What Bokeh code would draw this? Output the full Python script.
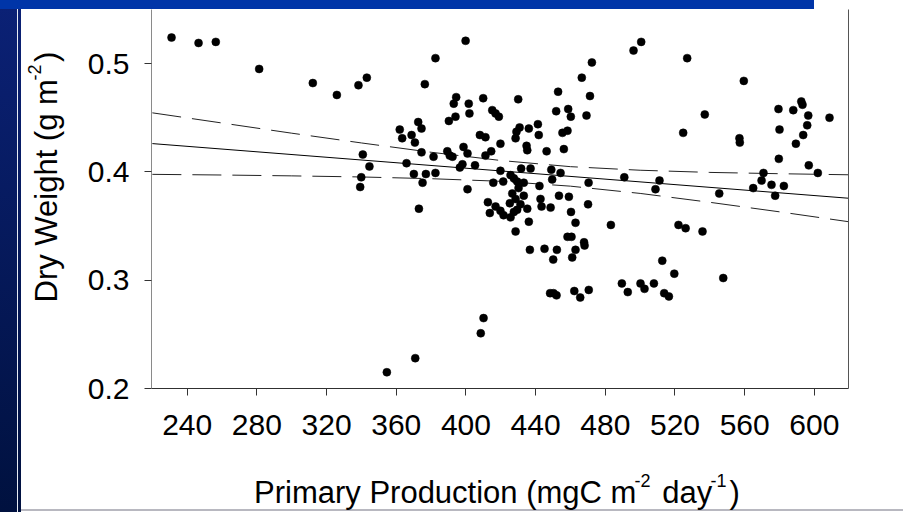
import math
from bokeh.plotting import figure
from bokeh.models import Range1d, FixedTicker, LinearAxis, Label
from bokeh.embed import file_html
from bokeh.resources import INLINE

# ---------------- data ----------------
production = [
    231.0, 246.5, 256.4, 281.3, 312.1, 325.9, 338.3, 343.1, 339.3, 339.9, 340.8, 344.6, 354.6, 362.0, 363.4,
    365.9, 368.8, 370.1, 370.7, 370.9, 372.6, 373.0, 374.5, 374.5, 375.1, 376.4, 377.0, 381.4, 382.5, 382.5,
    389.3, 390.2, 390.7, 392.3, 393.0, 394.0, 394.4, 396.5, 398.0, 398.6, 399.8, 400.9, 400.9, 401.6, 402.0,
    405.2, 408.0, 408.5, 409.9, 410.1, 411.2, 411.2, 412.6, 413.7, 414.5, 415.1, 415.7, 417.0, 417.0, 418.9,
    419.8, 419.8, 419.8, 421.4, 421.6,
    425.6, 427.5, 429.4, 433.2, 430.2, 426.6, 433.2, 428.5, 425.2, 431.3, 429.4, 427.5, 435.2, 425.6,
    428.5, 428.5, 429.0, 430.8, 430.0, 431.7, 437.1, 434.8, 435.2, 436.1, 436.1, 436.7, 441.3, 441.8, 442.2,
    442.8, 443.4, 445.1, 446.3, 448.6, 449.0, 449.5, 450.1, 448.3, 450.3, 452.0, 451.8, 452.2, 452.9, 453.4,
    454.3, 455.4, 458.3, 456.2, 458.7, 458.3, 460.6, 459.1, 460.2, 460.3, 461.0, 462.2, 462.9, 462.9, 465.6,
    466.5, 467.8, 468.1, 469.2, 470.1, 470.4, 470.5, 472.3, 471.2,
    483.2, 489.5, 490.9, 492.9, 496.2, 500.2, 500.6, 502.5, 507.9, 508.8, 511.1, 512.7, 513.8, 516.5, 519.6,
    522.0, 524.7, 526.1, 527.0, 535.8, 537.1, 545.4, 547.7, 557.0, 557.2, 559.5, 564.9, 570.8, 569.7, 575.4,
    577.5, 579.4, 579.6, 580.0, 582.5, 587.9, 589.4, 592.5, 593.2, 593.6, 595.9, 596.5, 596.8, 602.0, 608.7,
]
dry_weight = [
    0.524, 0.519, 0.520, 0.495, 0.482, 0.471, 0.480, 0.487, 0.386, 0.395, 0.416, 0.405, 0.215, 0.439, 0.431,
    0.408, 0.434, 0.398, 0.427, 0.228, 0.446, 0.366, 0.440, 0.418, 0.390, 0.481, 0.398, 0.414, 0.505, 0.399,
    0.419, 0.447, 0.415, 0.414, 0.463, 0.451, 0.469, 0.404, 0.407, 0.423, 0.521, 0.417, 0.384, 0.463, 0.454,
    0.406, 0.434, 0.251, 0.468, 0.265, 0.432, 0.415, 0.372, 0.362, 0.419, 0.457, 0.390, 0.454, 0.368, 0.451,
    0.426, 0.364, 0.401, 0.391, 0.360,
    0.397, 0.394, 0.391, 0.390, 0.385, 0.380, 0.378, 0.375, 0.371, 0.370, 0.365, 0.363, 0.366, 0.358,
    0.345, 0.431, 0.437, 0.441, 0.467, 0.403, 0.403, 0.424, 0.420, 0.440, 0.354, 0.328, 0.444, 0.434, 0.387,
    0.375, 0.368, 0.329, 0.419, 0.367, 0.402, 0.393, 0.319, 0.288, 0.288, 0.286, 0.456, 0.328, 0.474, 0.378,
    0.399, 0.436, 0.438, 0.421, 0.458, 0.340, 0.340, 0.377, 0.451, 0.363, 0.321, 0.290, 0.353, 0.328, 0.284,
    0.487, 0.335, 0.332, 0.452, 0.370, 0.390, 0.291, 0.501, 0.470,
    0.351, 0.297, 0.395, 0.289, 0.512, 0.297, 0.520, 0.292, 0.297, 0.384, 0.392, 0.318, 0.288, 0.285, 0.306,
    0.351, 0.436, 0.348, 0.505, 0.345, 0.453, 0.380, 0.302, 0.431, 0.427, 0.484, 0.385, 0.399, 0.392, 0.388,
    0.378, 0.458, 0.412, 0.439, 0.387, 0.457, 0.426, 0.465, 0.462, 0.434, 0.443, 0.452, 0.406, 0.399, 0.450,
]

# regression line and its 95% confidence band
fit_x = [220, 620]
fit_y = [0.4261, 0.3756]
band_x = [220, 260, 300, 340, 380, 420, 460, 500, 540, 580, 620]
band_upper = [0.4545, 0.4451, 0.4357, 0.4267, 0.4181, 0.4105, 0.4048, 0.4015, 0.3995, 0.3983, 0.3973]
band_lower = [0.3977, 0.3971, 0.3963, 0.3953, 0.3937, 0.3913, 0.3868, 0.3801, 0.3719, 0.3631, 0.3539]

x_ticks = [240, 280, 320, 360, 400, 440, 480, 520, 560, 600]
y_ticks = [0.2, 0.3, 0.4, 0.5]

# axis titles: (normal text, superscript) pieces
x_title = [("Primary Production (mgC m", "-2"), (" day", "-1"), (")", "")]
y_title = [("Dry Weight (g m", "-2"), (")", "")]

# ---------------- layout ----------------
W, H = 903, 512
L, R, T, B = 151, 55, 9, 124
X0, X1 = 219.5, 619.6
Y0, Y1 = 0.2, 0.5499
FONT = "Liberation Sans"
MAIN_PX, SUP_PX, RAISE = 31, 18, 12
NBSP = "\u00a0"

p = figure(width=W, height=H, output_backend="svg", toolbar_location=None,
           x_range=Range1d(X0, X1), y_range=Range1d(Y0, Y1),
           min_border_left=L, min_border_right=R, min_border_top=T, min_border_bottom=B,
           background_fill_color="white", border_fill_color=None, outline_line_color=None)

p.styles = {
    "background-color": "white",
    "background-image": ("linear-gradient(#0035a8, #0035a8), "
                         "linear-gradient(#e8ecf4, #e8ecf4), "
                         "linear-gradient(to bottom, #0b2176, #00113f), "
                         "linear-gradient(to bottom, #0b2176, #00113f), "
                         "linear-gradient(#b8b8c0, #b8b8c0)"),
    "background-size": "814px 9px, 1px 512px, 17px 512px, 3px 512px, 903px 2px",
    "background-position": "0px 0px, 17px 0px, 0px 0px, 18px 0px, 0px 509px",
    "background-repeat": "no-repeat",
}

p.grid.visible = False

for ax in (p.xaxis, p.yaxis):
    ax.major_tick_in = 0
    ax.major_tick_out = 7
    ax.minor_tick_line_color = None
    ax.major_label_text_font = FONT
    ax.major_label_text_font_size = "30px"
    ax.major_label_text_color = "black"
    ax.major_tick_line_color = "#333333"
    ax.axis_label = None

p.xaxis.ticker = FixedTicker(ticks=x_ticks)
p.yaxis.ticker = FixedTicker(ticks=y_ticks)
p.xaxis.axis_line_color = "#303030"
p.yaxis.axis_line_color = "#8a8a8a"
p.xaxis.major_label_standoff = 19
p.yaxis.major_label_standoff = 15

right_axis = LinearAxis(ticker=FixedTicker(ticks=[]), axis_line_color="#555555",
                        major_tick_line_color=None, minor_tick_line_color=None,
                        major_label_text_font_size="0px")
p.add_layout(right_axis, "right")

# lines
p.line(band_x, band_upper, line_color="#222222", line_width=1, line_dash="29 11")
p.line(band_x, band_lower, line_color="#222222", line_width=1, line_dash="29 11")
p.line(fit_x, fit_y, line_color="black", line_width=1)

# points
p.scatter(production, dry_weight, size=8, fill_color="black", line_color="black", line_width=0.5)

# ---------------- axis titles with superscripts ----------------
ARIAL = {' ': 278, NBSP: 278, '(': 333, ')': 333, '-': 333, '1': 556, '2': 556, 'P': 667, 'r': 333,
         'i': 222, 'm': 833, 'a': 556, 'y': 500, 'o': 556, 'd': 556, 'u': 556, 'c': 500, 't': 278,
         'n': 556, 'g': 556, 'C': 722, 'D': 722, 'W': 944, 'e': 556, 'h': 556}


def tw(s, px):
    return sum(ARIAL.get(c, 556) for c in s) * px / 1000.0


def pad(width, px):
    """non-breaking spaces that fill about `width` pixels at font size px"""
    return NBSP * max(0, int(round(width / tw(NBSP, px))))


def compose(parts):
    """one line of normal text with gaps for the superscripts, and one line
    of superscripts with gaps for the normal text"""
    main, sup = "", ""
    main_w = 0.0
    sup_start = None
    sup_w = 0.0
    for normal, s in parts:
        normal = normal.replace(" ", NBSP)
        main += normal
        main_w += tw(normal, MAIN_PX)
        if s:
            if sup_start is None:
                sup_start = main_w
            else:
                sup += pad(main_w - (sup_start + sup_w), SUP_PX)
                sup_w = tw(sup, SUP_PX)
            sup += s
            sup_w = tw(sup, SUP_PX)
            gap = pad(tw(s, SUP_PX), MAIN_PX)
            main += gap
            main_w += tw(gap, MAIN_PX)
    return main, sup, sup_start


fw, fh = W - L - R, H - T - B


def dx(cx):
    return X0 + (cx - L) * (X1 - X0) / fw


def dy(cy):
    return Y0 + ((H - B) - cy) * (Y1 - Y0) / fh


# x title: starts at canvas x=253.5
xm, xs, xs0 = compose(x_title)
XT_X, XT_BASE = 253.5, 492
p.add_layout(Label(x=dx(XT_X), y=dy(XT_BASE), text=xm, text_font=FONT,
                   text_font_size=f"{MAIN_PX}px", text_color="black",
                   text_align="left", text_baseline="alphabetic"), "below")
p.add_layout(Label(x=dx(XT_X + xs0 - 2), y=dy(XT_BASE - RAISE), text=xs, text_font=FONT,
                   text_font_size=f"{SUP_PX}px", text_color="black",
                   text_align="left", text_baseline="alphabetic"), "below")

# y title: rotated, starts at canvas y=302 going upward
ym, ys, ys0 = compose(y_title)
YT_BASE, YT_Y = 46, 302
p.add_layout(Label(x=dx(YT_BASE), y=dy(YT_Y), text=ym, text_font=FONT,
                   text_font_size=f"{MAIN_PX}px", text_color="black",
                   text_align="left", text_baseline="alphabetic", angle=math.pi / 2), "left")
p.add_layout(Label(x=dx(YT_BASE - RAISE), y=dy(YT_Y - ys0 + 2), text=ys, text_font=FONT,
                   text_font_size=f"{SUP_PX}px", text_color="black",
                   text_align="left", text_baseline="alphabetic", angle=math.pi / 2), "left")

open("out.html", "w").write(file_html(p, INLINE))
